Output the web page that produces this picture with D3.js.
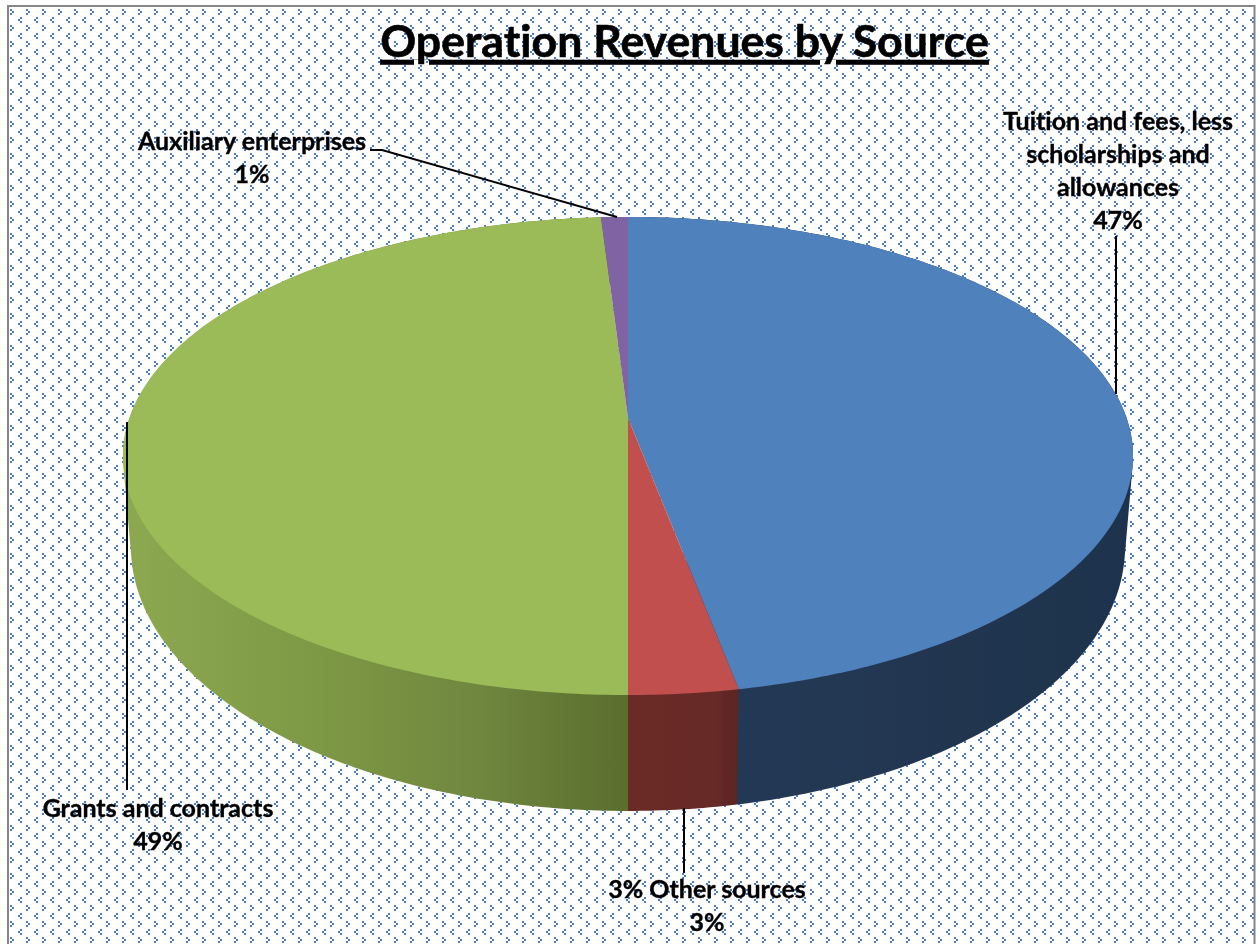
<!DOCTYPE html>
<html><head><meta charset="utf-8">
<script src="https://cdn.jsdelivr.net/npm/d3@7/dist/d3.min.js"></script>
<style>html,body{margin:0;padding:0;background:#fff;overflow:hidden}svg{display:block}text{font-family:Lato,"Open Sans",sans-serif;font-weight:700;fill:#000;font-variant-ligatures:none;stroke:#000;stroke-width:.35px}</style>
</head><body><div id="chart"></div>
<script>
const titleText = "Operation Revenues by Source";
const categories = ["Tuition and fees, less scholarships and allowances","3% Other sources","Grants and contracts","Auxiliary enterprises"];
const values = [47,3,49,1];
const labelRows = [["Tuition and fees, less","scholarships and","allowances"],["3% Other sources"],["Grants and contracts"],["Auxiliary enterprises"]];
const topColors = ["#4f81bd","#c0504d","#9bbb59","#8064a2"];
const wallStops = [
  [["0","#223a56"],["1","#1f334d"]],
  [["0","#6b2a28"],["0.8","#672a28"],["1","#5c2523"]],
  [["0","#8ca850"],["0.35","#7f9a46"],["0.7","#6f873e"],["1","#5a6d2e"]],
  [["0","#5f4a7a"],["1","#5f4a7a"]]
];
const W=1257,H=944;
const k=0.159;
const topFace={cx:628,cy:418,a:233,b:498.6};
const baseFace={cx:628,cy:505,a:257.3,b:490.7};
const labelBoxes=[{x:1118,y:130},{x:707,y:898},{x:158,y:817},{x:252,y:150}];
const leaders=[
  [[1116,236],[1116,394]],
  [[684,808],[684,873]],
  [[127,422],[127,790]],
  [[370,150],[382,150],[617,217]]
];
const svg=d3.select("#chart").append("svg").attr("width",W).attr("height",H);
const defs=svg.append("defs");
const soft=defs.append("filter").attr("id","soft").attr("x","-2%").attr("y","-2%").attr("width","104%").attr("height","104%");
soft.append("feGaussianBlur").attr("stdDeviation",0.5);
const softText=defs.append("filter").attr("id","softText").attr("x","-2%").attr("y","-2%").attr("width","104%").attr("height","104%");
softText.append("feGaussianBlur").attr("stdDeviation",0.35);
const tile=defs.append("pattern").attr("id","dots").attr("patternUnits","userSpaceOnUse").attr("width",16).attr("height",16);
tile.append("rect").attr("width",16).attr("height",16).attr("fill","#fff");
[[10,9],[12,11],[10,13],[4,1],[2,3],[4,5]].forEach(p=>tile.append("rect").attr("x",p[0]).attr("y",p[1]).attr("width",2).attr("height",2).attr("fill","#4a7dbd"));
svg.append("rect").attr("width",W).attr("height",H).attr("fill","#fff");
svg.append("rect").attr("x",8).attr("y",6).attr("width",1246.5).attr("height",H).attr("fill","url(#dots)").attr("stroke","#868686").attr("stroke-width",2);

function project(face,angle){
  const u=Math.sin(angle),v=-Math.cos(angle),d=1-k*v;
  return [face.cx+face.b*u/d,face.cy+face.a*v/d];
}
const arcs=d3.pie().sort(null).value(d=>d)(values);
function sample(d){
  const n=Math.max(4,Math.ceil((d.endAngle-d.startAngle)*80));
  return d3.range(n+1).map(i=>d.startAngle+(d.endAngle-d.startAngle)*i/n);
}
const line=d3.line();
const xRange=d=>d3.extent(sample(d).map(a=>project(baseFace,a)[0]));
arcs.forEach((d,i)=>{
  const e=xRange(d);
  const g=defs.append("linearGradient").attr("id","wall"+i).attr("gradientUnits","userSpaceOnUse")
    .attr("x1",e[0]).attr("x2",e[1]).attr("y1",0).attr("y2",0);
  wallStops[i].forEach(s=>g.append("stop").attr("offset",s[0]).attr("stop-color",s[1]));
});
const pieGroup=svg.append("g").attr("filter","url(#soft)");
pieGroup.append("g").selectAll("path").data(arcs).join("path")
  .attr("fill",(d,i)=>`url(#wall${i})`)
  .attr("d",d=>{
    const as=sample(d);
    return line(d3.polygonHull(as.map(a=>project(topFace,a)).concat(as.map(a=>project(baseFace,a)))))+"Z";
  });
pieGroup.append("g").selectAll("path").data(arcs).join("path")
  .attr("fill",(d,i)=>topColors[i])
  .attr("d",d=>line([[topFace.cx,topFace.cy]].concat(sample(d).map(a=>project(topFace,a))))+"Z");
svg.append("g").selectAll("path").data(leaders).join("path")
  .attr("d",d=>line(d)).attr("fill","none").attr("stroke","#000").attr("stroke-width",2);

const fs=25,lh=33;
const textGroup=svg.append("g").attr("filter","url(#softText)");
const labels=textGroup.append("g").selectAll("text").data(arcs).join("text")
  .attr("text-anchor","middle").attr("font-size",fs)
  .attr("transform",(d,i)=>`translate(${labelBoxes[i].x},${labelBoxes[i].y})`);
labels.each(function(d,i){
  const t=d3.select(this);
  labelRows[i].concat([d.value+"%"]).forEach((s,j)=>t.append("tspan").attr("x",0).attr("y",j*lh).text(s));
});
textGroup.append("text").attr("x",684.5).attr("y",57).attr("text-anchor","middle").attr("font-size",44.6).attr("text-decoration","underline").style("stroke-width","0.6px").text(titleText);
</script></body></html>
